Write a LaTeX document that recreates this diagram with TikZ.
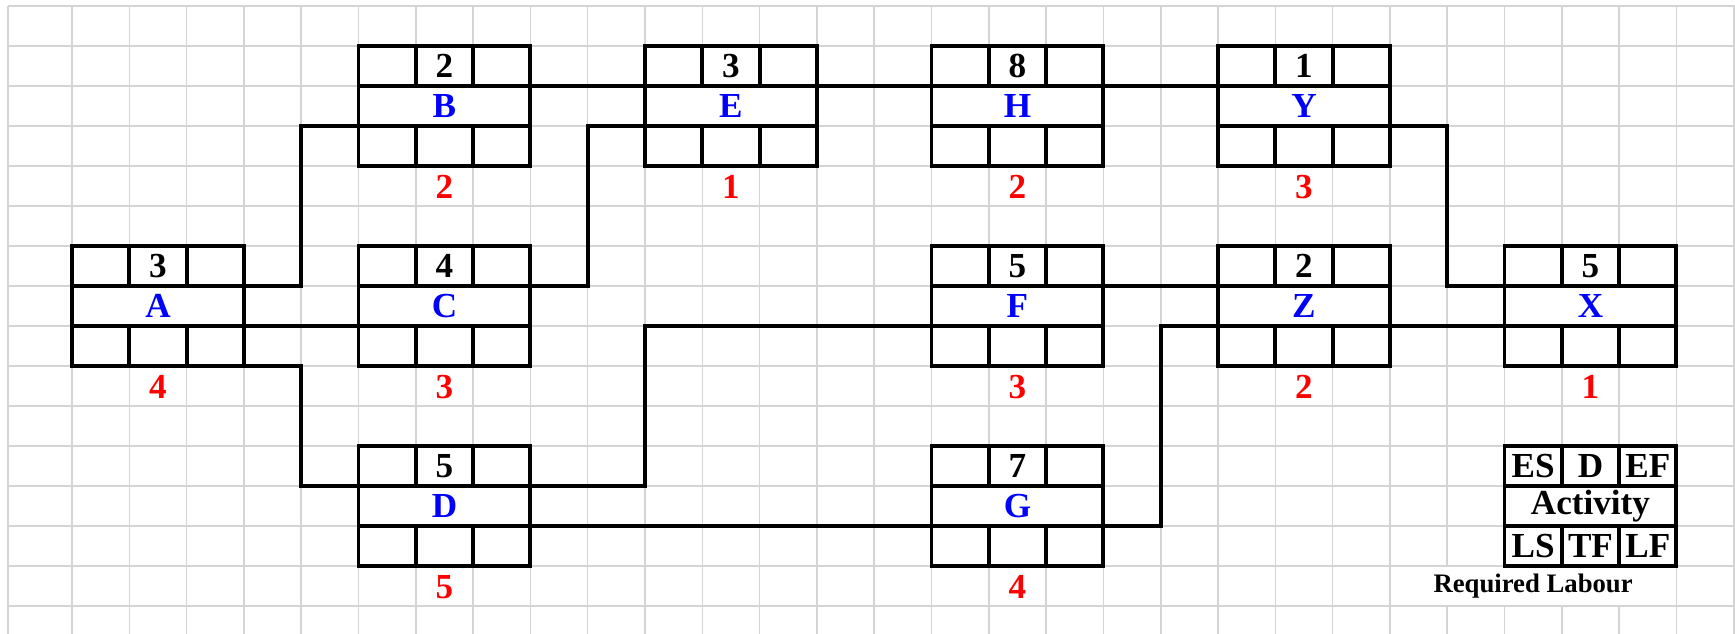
\documentclass[tikz,border=0pt]{standalone}
\usepackage{fontspec}
\setmainfont{Liberation Serif}
\usetikzlibrary{positioning}
\definecolor{GridGray}{RGB}{212,212,212}
\definecolor{ActBlue}{RGB}{0,0,255}
\definecolor{LabRed}{RGB}{255,0,0}

\begin{document}
\begin{tikzpicture}[x={(0.573cm,0)},y={(0,-0.4cm)},
  grid/.style={GridGray,line width=.45pt},
  cell/.style={draw,line width=1.1pt,fill=white,minimum width=.573cm,minimum height=.4cm,inner sep=0pt,outer sep=0pt,font=\fontsize{10}{11}\selectfont\bfseries},
  actcell/.style={cell,minimum width=1.719cm,text=ActBlue},
  labour/.style={minimum height=.4cm,inner sep=0pt,font=\fontsize{10}{11}\selectfont\bfseries,text=LabRed},
  link/.style={line width=1.1pt}]
\useasboundingbox (-1.2565,-0.15) rectangle (29.023,15.7);
\foreach \k in {0,...,29} \draw[grid] (\k,0) -- (\k,15.8);
\draw[grid] (-1.117,0) -- (-1.117,15.8);
\node[fill=white,minimum width=2.85cm,minimum height=.39cm,inner sep=0pt,font=\fontsize{7.6}{9}\selectfont\bfseries] (req) at (25.5,14.5) {Required Labour};
\foreach \r in {0,...,15} \draw[grid] (-1.117,\r) -- (29.1,\r);
\foreach \n/\x/\y/\d/\l in {A/0/6/3/4,B/5/1/2/2,C/5/6/4/3,D/5/11/5/5,E/10/1/3/1,H/15/1/8/2,F/15/6/5/3,G/15/11/7/4,Y/20/1/1/3,Z/20/6/2/2,X/25/6/5/1}{
  \node[actcell] (\n) at (\x+1.5,\y+1.5) {\n};
  \node[cell,above=0pt of \n] (\n-d) {\d};
  \node[cell,left=0pt of \n-d] (\n-es) {};
  \node[cell,right=0pt of \n-d] (\n-ef) {};
  \node[cell,below=0pt of \n] (\n-tf) {};
  \node[cell,left=0pt of \n-tf] (\n-ls) {};
  \node[cell,right=0pt of \n-tf] (\n-lf) {};
  \node[labour,below=0pt of \n-tf] (\n-lab) {\l};
}
\node[actcell,text=black] (key) at (26.5,12.5) {Activity};
\node[cell,above=0pt of key] (key-d) {D};
\node[cell,left=0pt of key-d] (key-es) {ES};
\node[cell,right=0pt of key-d] (key-ef) {EF};
\node[cell,below=0pt of key] (key-tf) {TF};
\node[cell,left=0pt of key-tf] (key-ls) {LS};
\node[cell,right=0pt of key-tf] (key-lf) {LF};
\draw[link] (A.north east) -- ++(1,0) |- (B.south west);
\draw[link] (A.south east) -- (C.south west);
\draw[link] (A-lf.south east) -- ++(1,0) |- (D.north west);
\draw[link] (B.north east) -- (E.north west);
\draw[link] (C.north east) -- ++(1,0) |- (E.south west);
\draw[link] (D.north east) -- ++(2,0) |- (F.south west);
\draw[link] (D.south east) -- (G.south west);
\draw[link] (E.north east) -- (H.north west);
\draw[link] (H.north east) -- (Y.north west);
\draw[link] (Y.south east) -- ++(1,0) |- (X.north west);
\draw[link] (F.north east) -- (Z.north west);
\draw[link] (G.south east) -- ++(1,0) |- (Z.south west);
\draw[link] (Z.south east) -- (X.south west);
\end{tikzpicture}
\end{document}
